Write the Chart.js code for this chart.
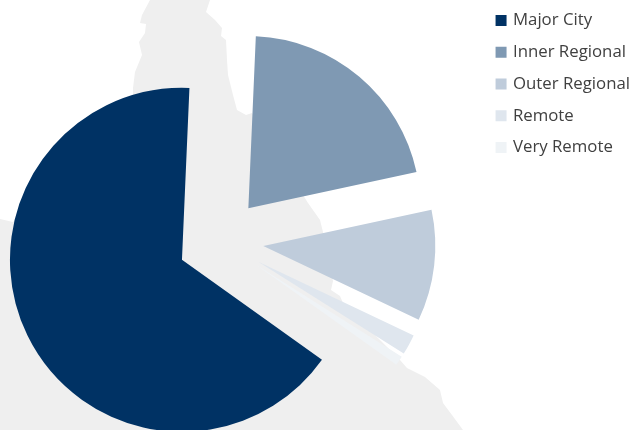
<!DOCTYPE html>
<html>
<head>
<meta charset="utf-8">
<style>html,body{margin:0;padding:0;background:#fff}#w{width:630px;height:430px;overflow:hidden;position:relative}canvas{display:block;position:absolute;left:0;top:0}</style>
<script src="https://cdn.jsdelivr.net/npm/chart.js@4"></script>
</head>
<body>
<div id="w"><canvas id="c" width="640" height="430"></canvas></div>
<script>
const categories = ["Major City", "Inner Regional", "Outer Regional", "Remote", "Very Remote"];
const shares = [65.7, 20.9, 10.4, 1.9, 0.9];
const colors = ["#003264", "#7F99B3", "#BFCCDB", "#DFE6EE", "#EFF3F6"];
const mapOutline = [[150,0],[142,15],[140,23],[146,24],[145,33],[139,42],[142,55],[135,72],[133,88],[133,100],
  [13,222],[0,219],[0,430],[463,430],[452,415],[443,403],[440,390],[425,377],[407,368],[400,360],[343,303],
  [340,296],[331,290],[333,281],[325,240],[323,232],[320,220],[308,203],[252,113],[246,115],[237,110],[233,95],
  [228,75],[227,60],[226,40],[221,36],[222,28],[215,20],[206,12],[210,0]];
const pieCenter = [220.6, 241];
const sliceRadius = 172;
const explode = 43;

const mapPlugin = {
  id: "map",
  beforeDraw(chart) {
    const ctx = chart.ctx;
    ctx.save();
    ctx.filter = "blur(0.6px)";
    ctx.fillStyle = "#EFEFEF";
    ctx.beginPath();
    mapOutline.forEach((p, i) => i ? ctx.lineTo(p[0], p[1]) : ctx.moveTo(p[0], p[1]));
    ctx.closePath();
    ctx.fill();
    ctx.restore();
  }
};

// Move each slice out along its middle angle, keeping one radius and the true sweep for all slices.
const explodePlugin = {
  id: "explode",
  beforeDatasetsDraw(chart) {
    chart.getDatasetMeta(0).data.forEach(arc => {
      const mid = (arc.startAngle + arc.endAngle) / 2;
      arc.x = pieCenter[0] + Math.cos(mid) * explode;
      arc.y = pieCenter[1] + Math.sin(mid) * explode;
    });
  }
};

new Chart(document.getElementById("c"), {
  type: "pie",
  plugins: [mapPlugin, explodePlugin],
  data: {
    labels: categories,
    datasets: [{
      data: shares,
      backgroundColor: colors,
      borderWidth: 0,
      clip: false
    }]
  },
  options: {
    responsive: false,
    animation: false,
    rotation: 125.5,
    radius: sliceRadius,
    layout: { padding: { top: -3 } },
    plugins: {
      tooltip: { enabled: false },
      legend: {
        position: "right",
        align: "start",
        labels: {
          boxWidth: 7,
          boxHeight: 7,
          padding: 15,
          color: "#404040",
          font: { family: "'Open Sans', sans-serif", size: 16.8 },
          generateLabels: () => categories.map((text, i) => ({
            text, index: i, hidden: false,
            fillStyle: colors[i], strokeStyle: colors[i], lineWidth: 4, lineJoin: "miter",
            fontColor: "#404040"
          }))
        }
      }
    }
  }
});
</script>
</body>
</html>
